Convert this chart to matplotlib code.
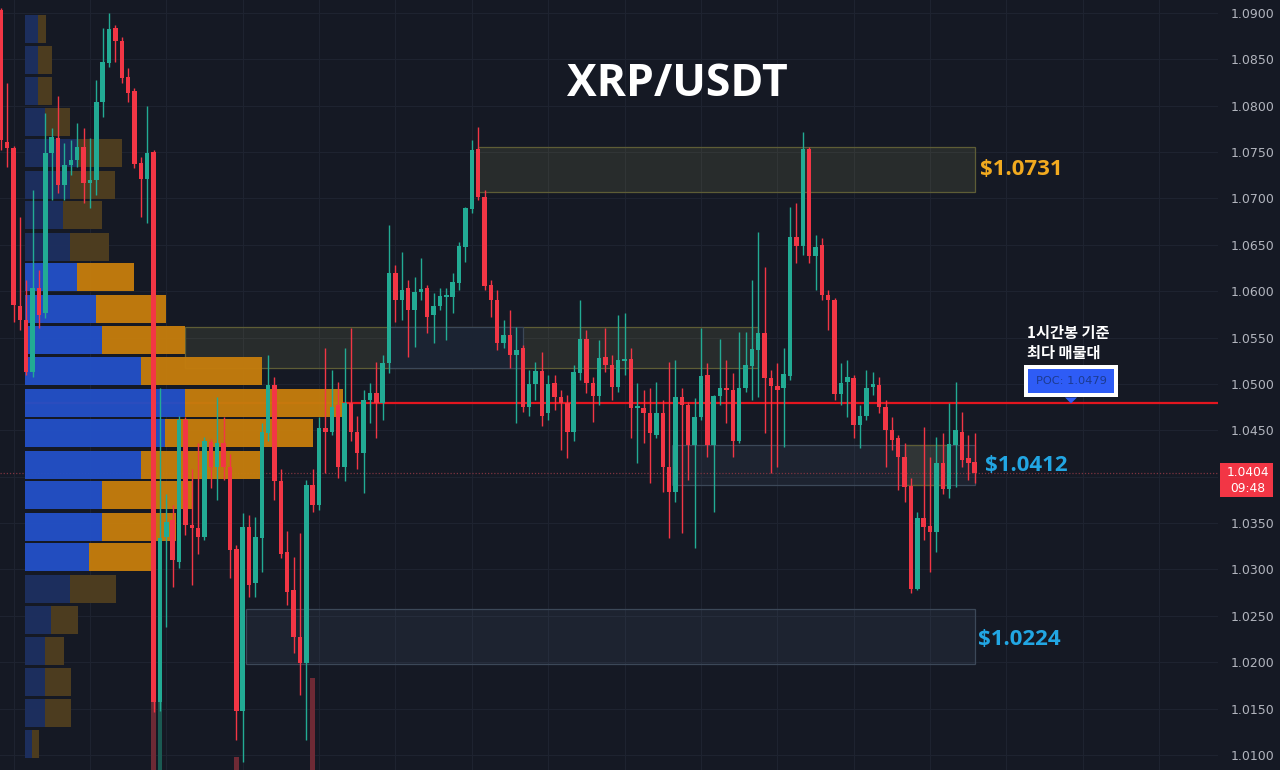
import matplotlib
matplotlib.use("Agg")
import matplotlib.pyplot as plt
from matplotlib.patches import Rectangle, Polygon
from matplotlib.transforms import blended_transform_factory

plt.rcParams['font.family'] = ['Open Sans', 'Noto Sans CJK KR', 'DejaVu Sans']

# ---------------- data ----------------
opens = [1.0903, 1.0761, 1.0754, 1.0584, 1.0569, 1.0513, 1.0604, 1.0576, 1.0749, 1.0765,
         1.0714, 1.0736, 1.0741, 1.0755, 1.0717, 1.0720, 1.0804, 1.0846, 1.0884, 1.0870,
         1.0831, 1.0816, 1.0738, 1.0721, 1.0750, 1.0157, 1.0335, 1.0353, 1.0308, 1.0461,
         1.0348, 1.0345, 1.0335, 1.0437, 1.0411, 1.0436, 1.0411, 1.0322, 1.0147, 1.0346,
         1.0285, 1.0334, 1.0447, 1.0499, 1.0395, 1.0319, 1.0278, 1.0227, 1.0199, 1.0391,
         1.0370, 1.0452, 1.0448, 1.0477, 1.0410, 1.0479, 1.0448, 1.0426, 1.0483, 1.0490,
         1.0479, 1.0523, 1.0620, 1.0591, 1.0604, 1.0580, 1.0599, 1.0604, 1.0574, 1.0584,
         1.0594, 1.0594, 1.0609, 1.0648, 1.0689, 1.0753, 1.0702, 1.0607, 1.0591, 1.0544,
         1.0553, 1.0531, 1.0539, 1.0475, 1.0500, 1.0514, 1.0469, 1.0501, 1.0486, 1.0479,
         1.0448, 1.0512, 1.0548, 1.0501, 1.0487, 1.0529, 1.0520, 1.0497, 1.0525, 1.0527,
         1.0474, 1.0474, 1.0469, 1.0445, 1.0469, 1.0411, 1.0383, 1.0486, 1.0477, 1.0434,
         1.0464, 1.0510, 1.0434, 1.0487, 1.0496, 1.0493, 1.0439, 1.0496, 1.0519, 1.0537,
         1.0555, 1.0506, 1.0498, 1.0496, 1.0509, 1.0658, 1.0649, 1.0753, 1.0638, 1.0650,
         1.0596, 1.0591, 1.0489, 1.0502, 1.0506, 1.0456, 1.0466, 1.0497, 1.0499, 1.0475,
         1.0450, 1.0442, 1.0421, 1.0390, 1.0279, 1.0355, 1.0347, 1.0340, 1.0415, 1.0387,
         1.0434, 1.0448, 1.0420, 1.0416]
closes = [1.0763, 1.0754, 1.0585, 1.0569, 1.0513, 1.0603, 1.0574, 1.0749, 1.0766, 1.0714,
          1.0736, 1.0742, 1.0755, 1.0717, 1.0720, 1.0804, 1.0847, 1.0883, 1.0870, 1.0830,
          1.0814, 1.0737, 1.0721, 1.0749, 1.0157, 1.0334, 1.0351, 1.0310, 1.0461, 1.0348,
          1.0345, 1.0335, 1.0439, 1.0411, 1.0436, 1.0411, 1.0321, 1.0147, 1.0346, 1.0283,
          1.0335, 1.0448, 1.0499, 1.0395, 1.0317, 1.0276, 1.0227, 1.0199, 1.0391, 1.0370,
          1.0452, 1.0448, 1.0475, 1.0410, 1.0479, 1.0448, 1.0426, 1.0483, 1.0490, 1.0479,
          1.0523, 1.0620, 1.0591, 1.0601, 1.0580, 1.0599, 1.0602, 1.0572, 1.0584, 1.0595,
          1.0595, 1.0610, 1.0649, 1.0690, 1.0752, 1.0702, 1.0606, 1.0591, 1.0544, 1.0553,
          1.0531, 1.0537, 1.0475, 1.0500, 1.0514, 1.0466, 1.0500, 1.0486, 1.0479, 1.0448,
          1.0513, 1.0548, 1.0501, 1.0487, 1.0528, 1.0520, 1.0497, 1.0526, 1.0527, 1.0474,
          1.0475, 1.0469, 1.0447, 1.0469, 1.0411, 1.0383, 1.0486, 1.0477, 1.0434, 1.0464,
          1.0509, 1.0434, 1.0487, 1.0496, 1.0493, 1.0439, 1.0496, 1.0520, 1.0538, 1.0555,
          1.0506, 1.0498, 1.0494, 1.0511, 1.0658, 1.0649, 1.0753, 1.0638, 1.0648, 1.0596,
          1.0591, 1.0489, 1.0501, 1.0507, 1.0456, 1.0466, 1.0496, 1.0500, 1.0475, 1.0450,
          1.0440, 1.0421, 1.0389, 1.0279, 1.0355, 1.0346, 1.0340, 1.0415, 1.0387, 1.0435,
          1.0450, 1.0418, 1.0415, 1.0404]
highs = [1.0905, 1.0824, 1.0757, 1.0680, 1.0612, 1.0709, 1.0623, 1.0792, 1.0776, 1.0810,
         1.0760, 1.0763, 1.0781, 1.0776, 1.0765, 1.0828, 1.0884, 1.0900, 1.0887, 1.0874,
         1.0841, 1.0819, 1.0745, 1.0800, 1.0752, 1.0496, 1.0381, 1.0370, 1.0466, 1.0464,
         1.0408, 1.0436, 1.0443, 1.0441, 1.0486, 1.0464, 1.0424, 1.0326, 1.0361, 1.0359,
         1.0357, 1.0458, 1.0531, 1.0508, 1.0408, 1.0342, 1.0313, 1.0339, 1.0397, 1.0408,
         1.0464, 1.0539, 1.0515, 1.0502, 1.0539, 1.0560, 1.0465, 1.0494, 1.0501, 1.0524,
         1.0531, 1.0671, 1.0628, 1.0642, 1.0612, 1.0615, 1.0636, 1.0607, 1.0598, 1.0604,
         1.0604, 1.0620, 1.0653, 1.0691, 1.0763, 1.0777, 1.0709, 1.0612, 1.0601, 1.0569,
         1.0580, 1.0561, 1.0542, 1.0515, 1.0524, 1.0534, 1.0510, 1.0510, 1.0494, 1.0488,
         1.0520, 1.0591, 1.0558, 1.0508, 1.0547, 1.0560, 1.0531, 1.0574, 1.0576, 1.0539,
         1.0501, 1.0494, 1.0496, 1.0502, 1.0483, 1.0524, 1.0526, 1.0496, 1.0481, 1.0485,
         1.0560, 1.0523, 1.0488, 1.0549, 1.0526, 1.0512, 1.0556, 1.0556, 1.0612, 1.0664,
         1.0626, 1.0515, 1.0523, 1.0539, 1.0691, 1.0695, 1.0772, 1.0755, 1.0661, 1.0657,
         1.0601, 1.0593, 1.0523, 1.0526, 1.0510, 1.0477, 1.0515, 1.0513, 1.0508, 1.0483,
         1.0464, 1.0445, 1.0436, 1.0399, 1.0362, 1.0454, 1.0421, 1.0443, 1.0447, 1.0479,
         1.0502, 1.0470, 1.0445, 1.0447]
lows = [1.0752, 1.0734, 1.0567, 1.0558, 1.0510, 1.0507, 1.0560, 1.0571, 1.0698, 1.0706,
        1.0698, 1.0725, 1.0734, 1.0695, 1.0690, 1.0704, 1.0788, 1.0842, 1.0847, 1.0825,
        1.0804, 1.0733, 1.0680, 1.0674, 1.0146, 1.0147, 1.0238, 1.0281, 1.0302, 1.0337,
        1.0283, 1.0317, 1.0332, 1.0388, 1.0375, 1.0397, 1.0291, 1.0116, 1.0092, 1.0270,
        1.0270, 1.0297, 1.0439, 1.0375, 1.0312, 1.0262, 1.0210, 1.0165, 1.0116, 1.0362,
        1.0364, 1.0404, 1.0445, 1.0399, 1.0395, 1.0439, 1.0408, 1.0382, 1.0458, 1.0442,
        1.0461, 1.0512, 1.0567, 1.0569, 1.0529, 1.0540, 1.0591, 1.0555, 1.0544, 1.0580,
        1.0547, 1.0576, 1.0601, 1.0631, 1.0684, 1.0698, 1.0601, 1.0572, 1.0537, 1.0539,
        1.0517, 1.0458, 1.0470, 1.0466, 1.0483, 1.0455, 1.0461, 1.0472, 1.0429, 1.0420,
        1.0439, 1.0504, 1.0490, 1.0459, 1.0477, 1.0513, 1.0483, 1.0491, 1.0510, 1.0442,
        1.0415, 1.0436, 1.0393, 1.0442, 1.0384, 1.0334, 1.0373, 1.0339, 1.0397, 1.0323,
        1.0461, 1.0421, 1.0362, 1.0477, 1.0458, 1.0421, 1.0436, 1.0491, 1.0483, 1.0486,
        1.0447, 1.0404, 1.0411, 1.0432, 1.0504, 1.0630, 1.0639, 1.0630, 1.0601, 1.0591,
        1.0558, 1.0483, 1.0477, 1.0464, 1.0442, 1.0431, 1.0461, 1.0488, 1.0469, 1.0411,
        1.0429, 1.0386, 1.0373, 1.0275, 1.0278, 1.0332, 1.0297, 1.0319, 1.0381, 1.0377,
        1.0389, 1.0411, 1.0397, 1.0393]

# volume spikes visible at the bottom edge (candle index, volume in M)
spike_idx = [24, 25, 37, 49]
spike_vol = [9.8, 9.8, 4.3, 12.2]

# volume profile (price level of each row, buy / sell volume)
vp_levels = [1.0883, 1.0849, 1.0816, 1.0782, 1.0749, 1.0715, 1.0682, 1.0648,
             1.0615, 1.0581, 1.0547, 1.0514, 1.0480, 1.0447, 1.0413, 1.0380,
             1.0346, 1.0313, 1.0279, 1.0246, 1.0212, 1.0179, 1.0145, 1.0112]
vp_buy = [1.3, 1.3, 1.3, 2.0, 5.3, 4.5, 3.8, 4.5, 5.2, 7.1, 7.7, 11.6,
          16.0, 14.0, 11.6, 7.7, 7.7, 6.4, 4.5, 2.6, 2.0, 2.0, 2.0, 0.7]
vp_sell = [0.8, 1.4, 1.4, 2.5, 4.4, 4.5, 3.9, 3.9, 5.7, 7.0, 8.3, 12.1,
           15.8, 14.8, 11.9, 9.0, 7.4, 6.2, 4.6, 2.7, 1.9, 2.6, 2.6, 0.7]
va_high = 1.0632
va_low = 1.0296
poc_price = 1.0479
last_price = 1.0404
last_time = "09:48"
price_ticks = [1.0100, 1.0150, 1.0200, 1.0250, 1.0300, 1.0350, 1.0400, 1.0450,
               1.0500, 1.0550, 1.0600, 1.0650, 1.0700, 1.0750, 1.0800, 1.0850, 1.0900]

# zones (start candle, end candle, low, high, style)
zone_start = [75, 29, 61, 105.5, 142, 38.5]
zone_end = [153, 119, 82, 153, 149, 153]
zone_low = [1.0707, 1.0517, 1.0517, 1.0391, 1.0391, 1.0198]
zone_high = [1.0756, 1.0561, 1.0561, 1.0434, 1.0434, 1.0257]
zone_style = ['olive', 'olive', 'blue_top', 'blue', 'olive', 'blue']

level_labels = ['$1.0731', '$1.0412', '$1.0224']
level_values = [1.0731, 1.0412, 1.0224]
level_colors = ['#f2aa1f', '#22a6e3', '#22a6e3']

title = 'XRP/USDT'
note_lines = ['1시간봉 기준', '최다 매물대']

# ---------------- layout ----------------
W, H = 1280, 770
BG = '#151924'
GRID = '#1e2330'
UP = '#22ab94'
DN = '#f23645'
PX0, STEP = 0.8, 6.365          # pixel of candle 0, pixels per candle
PLOT_W = 1218
YMIN, YMAX = 1.00838, 1.0914
PPX = (YMAX - YMIN) / H          # price per pixel


def px2x(px):
    return (px - PX0) / STEP


fig = plt.figure(figsize=(W / 100, H / 100), dpi=100, facecolor=BG)
ax = fig.add_axes([0, 0, PLOT_W / W, 1])
ax.set_facecolor(BG)
ax.set_xlim(px2x(0), px2x(PLOT_W))
ax.set_ylim(YMIN, YMAX)
for s in ax.spines.values():
    s.set_visible(False)

# grid
for p in price_ticks:
    ax.axhline(p, color=GRID, lw=0.8, zorder=0)
for gx in range(2, 191, 12):
    ax.axvline(gx, color=GRID, lw=0.8, zorder=0)

# right price scale (the label under the last-price tag is hidden by the tag)
ax.yaxis.tick_right()
ax.set_yticks(price_ticks)
ax.set_yticklabels(['' if abs(p - last_price) < 14 * PPX else f'{p:.4f}'
                    for p in price_ticks])
ax.tick_params(axis='y', length=0, pad=9, labelsize=9, labelcolor='#b2b5be')
for t in ax.get_yticklabels():
    t.set_fontfamily('DejaVu Sans')
ax.set_xticks([])

# zones
for s, e, lo, hi, st in zip(zone_start, zone_end, zone_low, zone_high, zone_style):
    if st == 'olive':
        fc, ec = (0.85, 0.85, 0.45, 0.10), '#5e5d36'
    elif st == 'blue_top':
        fc, ec = '#1b2332', '#3c4858'
    else:
        fc, ec = (0.45, 0.55, 0.70, 0.09), '#3c4858'
    ax.add_patch(Rectangle((s, lo), e - s, hi - lo, facecolor=fc, edgecolor=ec,
                           lw=0.9, zorder=1))

# POC line and last price line
ax.hlines(poc_price, px2x(25), px2x(PLOT_W), color='#e3161f', lw=1.6, zorder=2)
ax.axhline(last_price, color='#7d3440', lw=0.9, ls=(0, (1, 1.5)), zorder=1.5)

# volume profile
vp_x0 = px2x(25)
unit = 10 / STEP                 # 1 volume unit = 10 px
bar_h = 28 * PPX
for lvl, b, sl in zip(vp_levels, vp_buy, vp_sell):
    inside = va_low <= lvl <= va_high
    cb = '#2350c6' if inside else '#1d2f60'
    cs = '#c57d0d' if inside else '#4f3e1f'
    ax.barh(lvl, b * unit, left=vp_x0, height=bar_h, color=cb, zorder=3, alpha=0.96)
    ax.barh(lvl, sl * unit, left=vp_x0 + b * unit, height=bar_h, color=cs, zorder=3,
            alpha=0.96)

# volume spikes (baseline below the visible area)
vol_base = YMIN - 30 * PPX
for i, v in zip(spike_idx, spike_vol):
    c = '#6e2a35' if closes[i] < opens[i] else '#1b5a52'
    ax.bar(i, v * 10 * PPX, bottom=vol_base, width=0.75, color=c, zorder=2.5)

# candles
xs = list(range(len(opens)))
cols = [UP if c >= o else DN for o, c in zip(opens, closes)]
ax.vlines(xs, lows, highs, colors=cols, lw=1.0, zorder=4)
bodies = [max(abs(c - o), 1.6 * PPX) for o, c in zip(opens, closes)]
bottoms = [min(o, c) for o, c in zip(opens, closes)]
ax.bar(xs, bodies, bottom=bottoms, width=0.7, color=cols, zorder=4.5)

# level labels
label_px = [980, 985, 978]
for txt, v, c, lx in zip(level_labels, level_values, level_colors, label_px):
    ax.text(px2x(lx), v, txt, color=c, fontsize=16, fontweight='bold',
            ha='left', va='center', zorder=6)

# POC label
bx0, bx1 = px2x(1024), px2x(1118)
ax.add_patch(Rectangle((bx0, poc_price + 6 * PPX), bx1 - bx0, 32 * PPX,
                       facecolor='white', edgecolor='none', zorder=6))
ix0, ix1 = px2x(1028), px2x(1114)
ax.add_patch(Rectangle((ix0, poc_price + 10 * PPX), ix1 - ix0, 24 * PPX,
                       facecolor='#2e5cf6', edgecolor='none', zorder=6.5))
ax.text((ix0 + ix1) / 2, poc_price + 22 * PPX, f'POC: {poc_price:.4f}', color='#1c3a8f',
        fontsize=8.2, ha='center', va='center', zorder=7, fontfamily='DejaVu Sans')
ax.add_patch(Polygon([(px2x(1065), poc_price + 6 * PPX), (px2x(1077), poc_price + 6 * PPX),
                      (px2x(1071), poc_price)], closed=True, facecolor='#2e5cf6',
                     edgecolor='none', zorder=6))
ax.text(px2x(1027), poc_price + 70 * PPX, note_lines[0], color='white', fontsize=11,
        fontweight='bold', ha='left', va='center', zorder=7,
        fontfamily=['Noto Sans CJK KR', 'DejaVu Sans'])
ax.text(px2x(1027), poc_price + 51 * PPX, note_lines[1], color='white', fontsize=11,
        fontweight='bold', ha='left', va='center', zorder=7,
        fontfamily=['Noto Sans CJK KR', 'DejaVu Sans'])

# last price tag
tr = blended_transform_factory(ax.transAxes, ax.transData)
ax.add_patch(Rectangle((1220 / PLOT_W, last_price - 24 * PPX), 53 / PLOT_W, 34 * PPX,
                       facecolor='#f23645', edgecolor='none', transform=tr,
                       clip_on=False, zorder=8))
ax.text(1248 / PLOT_W, last_price + 1 * PPX, f'{last_price:.4f}', color='white',
        fontsize=8.8, ha='center', va='center', transform=tr, zorder=9,
        fontfamily='DejaVu Sans')
ax.text(1248 / PLOT_W, last_price - 15 * PPX, last_time, color='white',
        fontsize=8.8, ha='center', va='center', transform=tr, zorder=9,
        fontfamily='DejaVu Sans')

# title
fig.text(677 / W, 1 - 85 / H, title, color='white', fontsize=32, fontweight='bold',
         ha='center', va='center')

fig.savefig('out.png', dpi=100, facecolor=BG)
